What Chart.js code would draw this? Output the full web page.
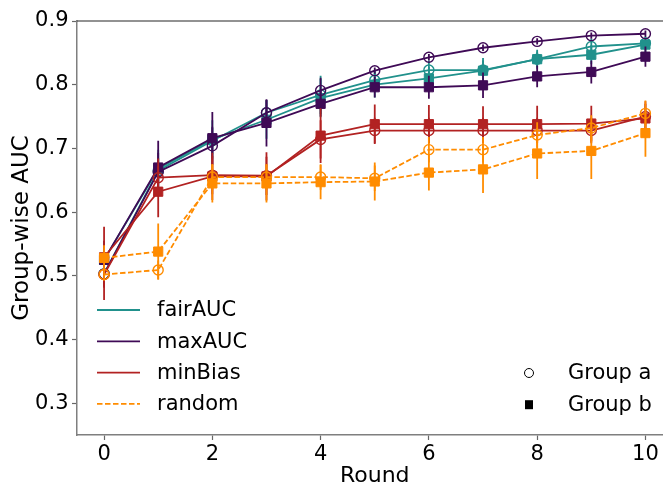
<!DOCTYPE html>
<html>
<head>
<meta charset="utf-8">
<title>Group-wise AUC per round</title>
<script src="https://cdn.jsdelivr.net/npm/chart.js@4.4.0/dist/chart.umd.min.js"></script>
<style>
    html, body { margin: 0; padding: 0; overflow: hidden; background: #fff; }
    #wrap { width: 680px; height: 487px; }
</style>
</head>
<body>
<div id="wrap"><canvas id="aucChart" width="680" height="487"></canvas></div>
<script>
// --- data ---
const rounds = [0, 1, 2, 3, 4, 5, 6, 7, 8, 9, 10];
const xTicks = [0, 2, 4, 6, 8, 10];
const yTicks = [0.3, 0.4, 0.5, 0.6, 0.7, 0.8, 0.9];

const methods = ['fairAUC', 'maxAUC', 'minBias', 'random'];
const groups = ['Group a', 'Group b'];

const fairAucA = [0.503, 0.665, 0.712, 0.756, 0.784, 0.807, 0.823, 0.823, 0.840, 0.860, 0.865];
const fairAucB = [0.525, 0.668, 0.714, 0.745, 0.779, 0.800, 0.810, 0.822, 0.840, 0.847, 0.863];
const maxAucA = [0.503, 0.663, 0.704, 0.756, 0.791, 0.822, 0.843, 0.858, 0.868, 0.877, 0.880];
const maxAucB = [0.525, 0.670, 0.716, 0.740, 0.770, 0.796, 0.796, 0.799, 0.813, 0.820, 0.844];
const minBiasA = [0.502, 0.654, 0.658, 0.657, 0.714, 0.728, 0.728, 0.728, 0.728, 0.728, 0.750];
const minBiasB = [0.529, 0.632, 0.656, 0.656, 0.720, 0.738, 0.738, 0.738, 0.738, 0.739, 0.747];
const randomA = [0.502, 0.509, 0.655, 0.655, 0.655, 0.653, 0.698, 0.698, 0.721, 0.732, 0.755];
const randomB = [0.528, 0.538, 0.645, 0.645, 0.647, 0.648, 0.662, 0.667, 0.692, 0.696, 0.724];

// half-length of the error bars
const fairAucErrA = [0.020, 0.020, 0.020, 0.020, 0.030, 0.015, 0.015, 0.015, 0.012, 0.012, 0.010];
const fairAucErrB = [0.020, 0.030, 0.030, 0.030, 0.030, 0.020, 0.018, 0.020, 0.015, 0.015, 0.012];
const maxAucErrA = [0.020, 0.030, 0.030, 0.020, 0.020, 0.005, 0.005, 0.005, 0.005, 0.005, 0.005];
const maxAucErrB = [0.030, 0.042, 0.041, 0.037, 0.020, 0.016, 0.018, 0.020, 0.017, 0.018, 0.016];
const minBiasErrA = [0.040, 0.030, 0.030, 0.030, 0.030, 0.020, 0.020, 0.020, 0.020, 0.020, 0.020];
const minBiasErrB = [0.048, 0.040, 0.037, 0.038, 0.043, 0.031, 0.030, 0.028, 0.029, 0.028, 0.027];
const randomErrA = [0.010, 0.015, 0.020, 0.020, 0.020, 0.020, 0.020, 0.020, 0.020, 0.020, 0.020];
const randomErrB = [0.020, 0.044, 0.030, 0.030, 0.027, 0.030, 0.028, 0.037, 0.040, 0.044, 0.037];

const colors = {
    fairAUC: '#21918c',
    maxAUC: '#3f0a56',
    minBias: '#b22222',
    random: '#ff8c00'
};
const dashes = { fairAUC: [], maxAUC: [], minBias: [], random: [5.5, 2.5] };

const FONT = '"DejaVu Sans", "Liberation Sans", sans-serif';

function toPoints(values) {
    return rounds.map((r, i) => ({ x: r, y: values[i] }));
}

function makeDataset(method, group, values, errors, order) {
    const c = colors[method];
    const isA = group === 'Group a';
    return {
        label: method + ' ' + group,
        data: toPoints(values),
        errors: errors,
        borderColor: c,
        backgroundColor: c,
        borderWidth: 1.8,
        borderDash: dashes[method],
        pointStyle: isA ? 'circle' : 'rect',
        pointRadius: isA ? 5 : 6.5,
        pointBorderWidth: isA ? 1.4 : 1,
        pointBackgroundColor: isA ? 'rgba(0,0,0,0)' : c,
        pointBorderColor: c,
        tension: 0,
        fill: false,
        order: order
    };
}

// higher order is drawn first, so "random" ends up on top
const datasets = [
    makeDataset('fairAUC', 'Group a', fairAucA, fairAucErrA, 8),
    makeDataset('fairAUC', 'Group b', fairAucB, fairAucErrB, 7),
    makeDataset('maxAUC', 'Group a', maxAucA, maxAucErrA, 6),
    makeDataset('maxAUC', 'Group b', maxAucB, maxAucErrB, 5),
    makeDataset('minBias', 'Group a', minBiasA, minBiasErrA, 4),
    makeDataset('minBias', 'Group b', minBiasB, minBiasErrB, 3),
    makeDataset('random', 'Group a', randomA, randomErrA, 2),
    makeDataset('random', 'Group b', randomB, randomErrB, 1)
];

// vertical error bars, drawn just under their own dataset
const errorBarPlugin = {
    id: 'errorBars',
    beforeDatasetDraw(chart, args) {
        const ds = chart.data.datasets[args.index];
        if (!ds.errors) return;
        const { ctx, chartArea } = chart;
        const xs = chart.scales.x, ys = chart.scales.y;
        ctx.save();
        ctx.beginPath();
        ctx.rect(chartArea.left, chartArea.top, chartArea.right - chartArea.left, chartArea.bottom - chartArea.top);
        ctx.clip();
        ctx.strokeStyle = ds.borderColor;
        ctx.lineWidth = 1.8;
        ds.data.forEach((pt, i) => {
            const e = ds.errors[i];
            const px = xs.getPixelForValue(pt.x);
            ctx.beginPath();
            ctx.moveTo(px, ys.getPixelForValue(pt.y - e));
            ctx.lineTo(px, ys.getPixelForValue(pt.y + e));
            ctx.stroke();
        });
        ctx.restore();
    }
};

// top spine + the two legends (methods bottom-left, groups bottom-right)
const framePlugin = {
    id: 'frameAndLegends',
    afterDraw(chart) {
        const { ctx, chartArea } = chart;
        ctx.save();
        ctx.strokeStyle = '#262626';
        ctx.lineWidth = 1.2;
        ctx.beginPath();
        ctx.moveTo(chartArea.left, chartArea.top);
        ctx.lineTo(chartArea.right, chartArea.top);
        ctx.stroke();

        ctx.font = '21px ' + FONT;
        ctx.textBaseline = 'middle';
        ctx.textAlign = 'left';

        methods.forEach((m, i) => {
            const y = chartArea.top + 289 + i * 31.3;
            ctx.strokeStyle = colors[m];
            ctx.lineWidth = 1.8;
            ctx.setLineDash(dashes[m]);
            ctx.beginPath();
            ctx.moveTo(chartArea.left + 20, y);
            ctx.lineTo(chartArea.left + 63, y);
            ctx.stroke();
            ctx.setLineDash([]);
            ctx.fillStyle = '#000';
            ctx.fillText(m, chartArea.left + 80, y + 1);
        });

        groups.forEach((g, i) => {
            const y = chartArea.top + 352 + i * 31.7;
            const mx = chartArea.left + 452;
            ctx.strokeStyle = '#000';
            ctx.fillStyle = '#000';
            ctx.lineWidth = 1;
            if (i === 0) {
                ctx.beginPath();
                ctx.arc(mx, y, 4.5, 0, Math.PI * 2);
                ctx.stroke();
            } else {
                ctx.fillRect(mx - 4, y - 4.5, 8, 9);
            }
            ctx.fillText(g, chartArea.left + 491, y + 1);
        });
        ctx.restore();
    }
};

const tickFont = { family: FONT, size: 21 };
const titleFont = { family: FONT, size: 22 };

new Chart(document.getElementById('aucChart'), {
    type: 'line',
    data: { datasets: datasets },
    plugins: [errorBarPlugin, framePlugin],
    options: {
        responsive: false,
        animation: false,
        devicePixelRatio: 1,
        layout: { padding: { top: 21, right: 7.4, left: 0, bottom: 0 } },
        plugins: {
            legend: { display: false },
            tooltip: { enabled: false }
        },
        scales: {
            x: {
                type: 'linear',
                min: -0.5,
                max: 10.5,
                afterBuildTicks: (scale) => { scale.ticks = xTicks.map(v => ({ value: v })); },
                afterFit: (scale) => { scale.height = 52; },
                grid: { display: true, drawOnChartArea: false, drawTicks: true, tickLength: 5, tickColor: '#666', tickWidth: 1.2 },
                border: { display: true, color: '#7f7f7f', width: 1.5 },
                ticks: { font: tickFont, color: '#000', padding: 2, maxRotation: 0, autoSkip: false },
                title: { display: true, text: 'Round', font: titleFont, color: '#000', padding: { top: 0, bottom: -2 } }
            },
            y: {
                type: 'linear',
                min: 0.25,
                max: 0.9,
                afterBuildTicks: (scale) => { scale.ticks = yTicks.map(v => ({ value: v })); },
                afterFit: (scale) => { scale.width = 77; },
                grid: { display: true, drawOnChartArea: false, drawTicks: true, tickLength: 5, tickColor: '#666', tickWidth: 1.2 },
                border: { display: true, color: '#7f7f7f', width: 1.5 },
                ticks: { font: tickFont, color: '#000', padding: 3.5, autoSkip: false, callback: (v) => v.toFixed(1) },
                title: { display: true, text: 'Group-wise AUC', font: { family: FONT, size: 23 }, color: '#000', padding: { top: 8, bottom: 0 } }
            }
        }
    }
});
</script>
</body>
</html>
